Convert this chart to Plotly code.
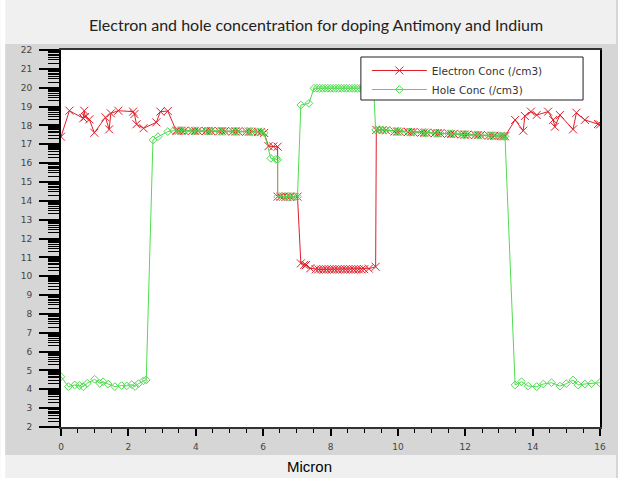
import math
import plotly.graph_objects as go

# ---- data ----
elec_x = [0.00, 0.25, 0.66, 0.69, 0.72, 0.84, 0.99, 1.32, 1.43, 1.48, 1.70, 2.14, 2.18, 2.24, 2.45, 2.83, 2.95, 3.17,
          3.42, 3.50, 3.58, 3.66, 3.90, 3.98, 4.06, 4.30, 4.38, 4.46, 4.70, 4.78, 4.86, 5.10, 5.18, 5.26, 5.50, 5.58, 5.66,
          5.85, 5.93, 6.03, 6.16, 6.30, 6.43, 6.43, 6.52, 6.60, 6.70, 6.80, 6.90, 7.02,
          7.12, 7.22, 7.27, 7.40, 7.56, 7.64, 7.72, 7.80, 7.88, 7.96, 8.04, 8.12, 8.20, 8.28, 8.36, 8.44, 8.52, 8.60,
          8.68, 8.76, 8.84, 8.92, 9.00, 9.14, 9.34,
          9.36, 9.45, 9.55, 9.65, 9.90, 9.98, 10.06, 10.30, 10.38, 10.46, 10.70, 10.78, 10.86, 11.10, 11.18, 11.26,
          11.50, 11.58, 11.66, 11.90, 11.98, 12.06, 12.30, 12.38, 12.46, 12.70, 12.78, 12.86, 13.05, 13.12, 13.18,
          13.48, 13.72, 13.77, 13.95, 14.12, 14.46, 14.61, 14.66, 14.81, 15.20, 15.30, 15.55, 15.94, 16.00]
elec_y = [17.40, 18.78, 18.38, 18.78, 18.45, 18.32, 17.61, 18.43, 17.79, 18.64, 18.78, 18.73, 18.60, 18.06, 17.85, 18.16, 18.73, 18.76,
          17.72, 17.72, 17.72, 17.71, 17.71, 17.71, 17.71, 17.70, 17.70, 17.70, 17.69, 17.69, 17.69, 17.68, 17.68, 17.68, 17.67, 17.67, 17.67,
          17.66, 17.65, 17.60, 16.90, 16.88, 16.87, 14.22, 14.22, 14.22, 14.22, 14.22, 14.22, 14.22,
          10.68, 10.60, 10.59, 10.42, 10.36, 10.36, 10.36, 10.36, 10.36, 10.36, 10.36, 10.36, 10.36, 10.36, 10.36, 10.36, 10.36, 10.36,
          10.36, 10.36, 10.36, 10.36, 10.37, 10.40, 10.50,
          17.76, 17.76, 17.75, 17.74, 17.68, 17.67, 17.67, 17.65, 17.64, 17.64, 17.62, 17.61, 17.61, 17.59, 17.58, 17.58,
          17.56, 17.55, 17.55, 17.52, 17.51, 17.51, 17.49, 17.48, 17.48, 17.46, 17.45, 17.45, 17.43, 17.42, 17.42,
          18.29, 17.72, 18.50, 18.73, 18.55, 18.73, 18.29, 17.93, 18.55, 17.79, 18.67, 18.29, 18.07, 18.05]

hole_x = [0.00, 0.22, 0.41, 0.55, 0.66, 0.78, 1.00, 1.15, 1.25, 1.40, 1.60, 1.80, 1.95, 2.10, 2.20, 2.30, 2.45, 2.53,
          2.73, 2.88, 3.17, 3.34, 3.50, 3.58, 3.66, 3.90, 3.98, 4.06, 4.30, 4.38, 4.46, 4.70, 4.78, 4.86, 5.10, 5.18, 5.26,
          5.50, 5.58, 5.66, 5.85, 5.93, 6.03, 6.23, 6.38, 6.43, 6.43, 6.55, 6.65, 6.75, 6.85, 6.95, 7.02,
          7.12, 7.36, 7.51, 7.60, 7.68, 7.76, 7.84, 7.92, 8.00, 8.08, 8.16, 8.24, 8.32, 8.40, 8.48, 8.56, 8.64, 8.72,
          8.80, 8.88, 8.96, 9.09, 9.29,
          9.34, 9.45, 9.55, 9.65, 9.90, 9.98, 10.06, 10.30, 10.38, 10.46, 10.70, 10.78, 10.86, 11.10, 11.18, 11.26,
          11.50, 11.58, 11.66, 11.90, 11.98, 12.06, 12.30, 12.38, 12.46, 12.70, 12.78, 12.86, 13.05, 13.12, 13.18,
          13.48, 13.67, 13.87, 14.12, 14.32, 14.56, 14.81, 15.00, 15.20, 15.35, 15.55, 15.75, 15.99]
hole_y = [4.67, 4.14, 4.23, 4.20, 4.14, 4.32, 4.53, 4.32, 4.40, 4.28, 4.14, 4.20, 4.18, 4.25, 4.15, 4.30, 4.45, 4.50,
          17.23, 17.40, 17.67, 17.72, 17.72, 17.72, 17.71, 17.71, 17.71, 17.71, 17.70, 17.70, 17.70, 17.69, 17.69, 17.69, 17.68, 17.68, 17.68,
          17.67, 17.67, 17.67, 17.66, 17.65, 17.61, 16.25, 16.20, 16.18, 14.22, 14.22, 14.22, 14.22, 14.22, 14.22, 14.22,
          19.08, 19.17, 19.97, 19.97, 19.97, 19.97, 19.97, 19.97, 19.97, 19.97, 19.97, 19.97, 19.97, 19.97, 19.97, 19.97, 19.97, 19.97,
          19.97, 19.97, 19.97, 19.97, 19.61,
          17.76, 17.76, 17.75, 17.74, 17.68, 17.67, 17.67, 17.65, 17.64, 17.64, 17.62, 17.61, 17.61, 17.59, 17.58, 17.58,
          17.56, 17.55, 17.55, 17.52, 17.51, 17.51, 17.49, 17.48, 17.48, 17.46, 17.45, 17.45, 17.43, 17.42, 17.42,
          4.23, 4.40, 4.17, 4.14, 4.28, 4.35, 4.17, 4.30, 4.49, 4.23, 4.28, 4.30, 4.35]

x_ticks = [0, 2, 4, 6, 8, 10, 12, 14, 16]
y_ticks = list(range(2, 23))
minor_steps = [2, 3, 4, 5, 6, 7, 8, 9]

title_text = "Electron and hole concentration for doping Antimony and Indium"
x_title = "Micron"
elec_name = "Electron Conc (/cm3)"
hole_name = "Hole Conc (/cm3)"

y_minor = [k + math.log10(j) for k in range(2, 22) for j in minor_steps]

RED = "#de1f2b"
GREEN = "#4fdc4f"

fig = go.Figure()
fig.add_trace(go.Scatter(x=elec_x, y=elec_y, name=elec_name, mode="lines+markers",
                         line=dict(color=RED, width=1),
                         marker=dict(symbol="x-thin-open", size=8, color=RED, line=dict(color=RED, width=1))))
fig.add_trace(go.Scatter(x=hole_x, y=hole_y, name=hole_name, mode="lines+markers",
                         line=dict(color=GREEN, width=1),
                         marker=dict(symbol="diamond-open", size=6, color=GREEN, line=dict(color=GREEN, width=1))))

W, H = 618, 478
L, R, T, B = 61, 602, 50, 427
pw, ph = R - L, B - T


def px(x):
    return (x - L) / pw


def py(y):
    return (B - y) / ph


tick_font = dict(family="DejaVu Sans, Verdana, sans-serif", size=9, color="#444")

shapes = [
    # light title band
    dict(type="rect", xref="paper", yref="paper", x0=px(0), x1=px(W), y0=py(44), y1=py(0),
         fillcolor="#f0f0f0", line=dict(width=0), layer="below"),
    # light bottom band
    dict(type="rect", xref="paper", yref="paper", x0=px(0), x1=px(W), y0=py(H), y1=py(455),
         fillcolor="#f0f0f0", line=dict(width=0), layer="below"),
    # white left strip
    dict(type="rect", xref="paper", yref="paper", x0=px(0), x1=px(5), y0=py(H), y1=py(0),
         fillcolor="white", line=dict(width=0), layer="below"),
    # legend box
    dict(type="rect", xref="paper", yref="paper", x0=px(362), x1=px(585), y0=py(100), y1=py(57),
         fillcolor="white", line=dict(color="#222", width=1), layer="above"),
]

fig.update_layout(
    width=W, height=H,
    margin=dict(l=L, r=W - R, t=T, b=H - B, pad=0),
    paper_bgcolor="#d6d6d6",
    plot_bgcolor="white",
    shapes=shapes,
    title=dict(text=title_text, x=316 / W, xanchor="center", y=1 - 25 / H, yanchor="middle",
               xref="container", yref="container",
               font=dict(family="Lato, Open Sans, sans-serif", size=16, color="#222")),
    xaxis=dict(range=[0, 16], tickvals=x_ticks, showgrid=False, zeroline=False,
               showline=True, linecolor="#333", linewidth=1.5, mirror=True,
               ticks="outside", ticklen=7, tickwidth=2, tickcolor="black",
               ticklabelstandoff=3, tickfont=tick_font,
               minor=dict(dtick=0.5, ticks="outside", ticklen=4, tickwidth=1, tickcolor="black", showgrid=False)),
    yaxis=dict(range=[2, 22], tickvals=y_ticks, showgrid=False, zeroline=False,
               showline=True, linecolor="black", linewidth=2, mirror=True,
               ticks="outside", ticklen=20, tickwidth=1.5, tickcolor="black",
               ticklabelstandoff=5, tickfont=tick_font,
               minor=dict(tickvals=y_minor, ticks="outside", ticklen=11, tickwidth=1, tickcolor="black", showgrid=False)),
    legend=dict(x=px(368), y=py(56), xanchor="left", yanchor="top",
                bgcolor="rgba(0,0,0,0)", borderwidth=0,
                font=dict(family="DejaVu Sans, Verdana, sans-serif", size=10.5, color="#333"),
                itemwidth=55, tracegroupgap=0),
    annotations=[dict(text=x_title, xref="paper", yref="paper", x=px(310), y=py(467),
                      xanchor="center", yanchor="middle", showarrow=False,
                      font=dict(family="Liberation Sans, Arial, sans-serif", size=15, color="black"))],
)

fig.write_html("out.html")
